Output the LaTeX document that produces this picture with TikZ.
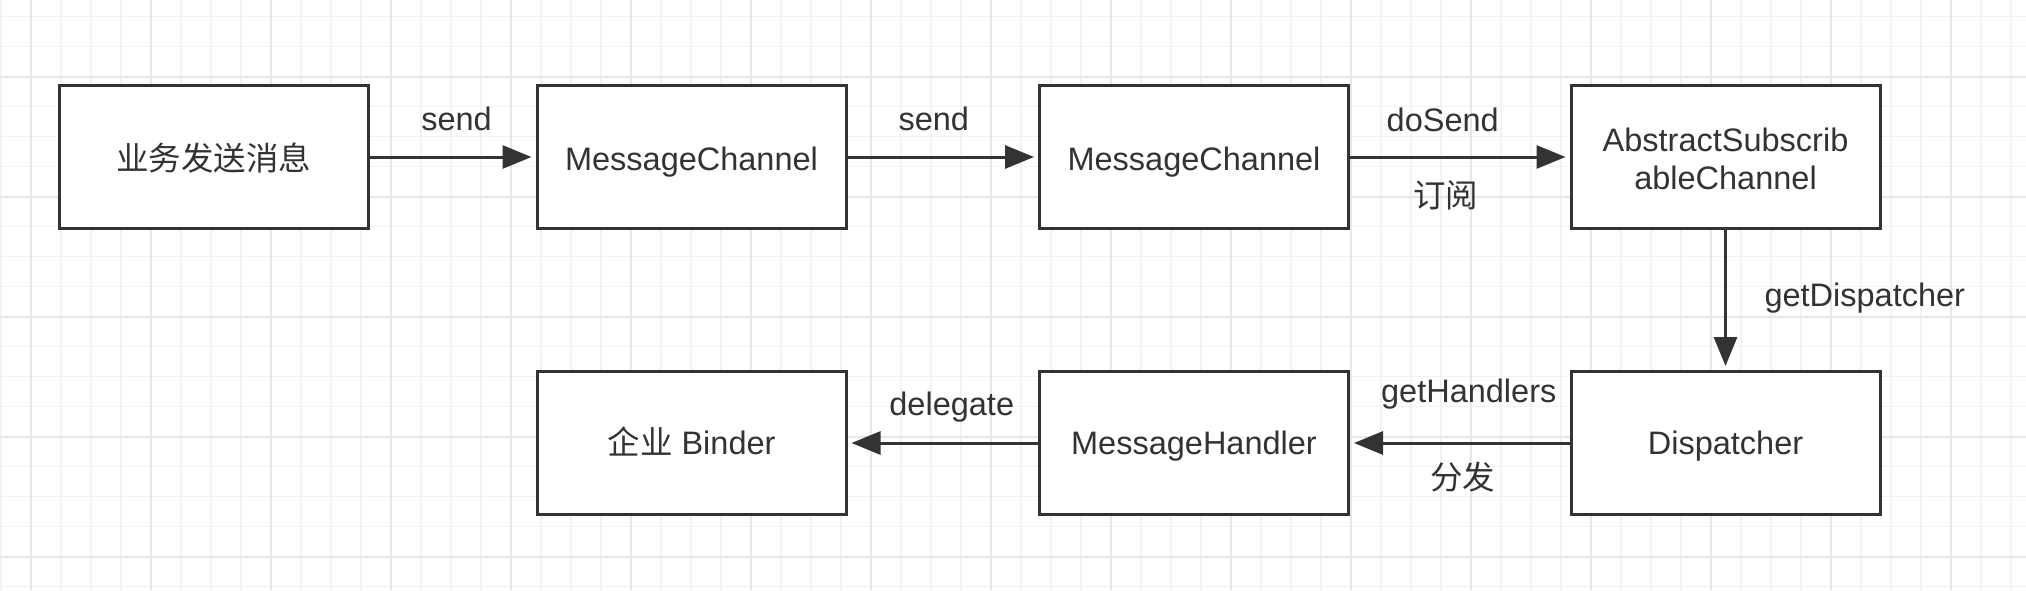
\documentclass[tikz,border=0pt]{standalone}
\usepackage{fontspec}
\setmainfont{Liberation Sans}
\newfontfamily\cjk{Noto Sans CJK SC}
\usetikzlibrary{arrows.meta}
\definecolor{ink}{HTML}{333333}
\definecolor{gridminor}{HTML}{F2F2F2}
\definecolor{gridmajor}{HTML}{E7E7E7}
\tikzset{
  box/.style={draw=ink, line width=3pt, fill=white, rectangle, inner sep=0pt,
    minimum width=309pt, minimum height=143pt, text=ink,
    font=\fontsize{32.5}{37.3}\selectfont, text height=23pt, text depth=0pt},
  toprow/.style={text height=26pt},
  twoline/.style={align=center, text height=64pt, text depth=0pt},
  arr/.style={draw=ink, line width=3pt, -{Triangle[length=29pt,width=23pt]}, shorten >=4pt},
  lbl/.style={text=ink, inner sep=0pt, font=\fontsize{32.5}{37.3}\selectfont, anchor=base},
}
\begin{document}
\begin{tikzpicture}[x=1pt,y=-1pt]
\useasboundingbox (0,0) rectangle (2026,590);
\fill[white] (0,0) rectangle (2026,590);
% grid
\foreach \i in {0,...,67} { \draw[gridminor, line width=1.5pt] ({1+30*\i},0) -- ({1+30*\i},590); }
\foreach \j in {0,...,19} { \draw[gridminor, line width=1.5pt] (0,{16.7+30*\j}) -- (2026,{16.7+30*\j}); }
\foreach \i in {0,...,16} { \draw[gridmajor, line width=2pt] ({31+120*\i},0) -- ({31+120*\i},590); }
\foreach \j in {0,...,4} { \draw[gridmajor, line width=2pt] (0,{76.7+120*\j}) -- (2026,{76.7+120*\j}); }
% boxes
\node[box, toprow] (b1) at (213.5,157) {{\cjk 业务发送消息}};
\node[box, toprow] (b2) at (691.5,157) {MessageChannel};
\node[box, toprow] (b3) at (1194,157) {MessageChannel};
\node[box, twoline] (b4) at (1725.5,157) {AbstractSubscrib\\ableChannel};
\node[box] (b5) at (691.5,443) {{\cjk 企业} Binder};
\node[box] (b6) at (1194,443) {MessageHandler};
\node[box] (b7) at (1725.5,443) {Dispatcher};
% connectors
\draw[arr] (b1.east) -- node[lbl, xshift=4pt, yshift=27pt] (l1) {send} (b2.west);
\draw[arr] (b2.east) -- node[lbl, xshift=-9pt, yshift=27pt] (l2) {send} (b3.west);
\draw[arr] (b3.east) -- node[lbl, xshift=-17pt, yshift=26pt] (l3) {doSend}
                        node[lbl, xshift=-14pt, yshift=-50pt] (l4) {\cjk 订阅} (b4.west);
\draw[arr] (b4.south) -- node[lbl, anchor=base west, xshift=37.5pt, yshift=-6pt] (l5) {getDispatcher} (b7.north);
\draw[arr] (b7.west) -- node[lbl, xshift=9pt, yshift=41pt] (l6) {getHandlers}
                        node[lbl, xshift=3pt, yshift=-46pt] (l7) {\cjk 分发} (b6.east);
\draw[arr] (b6.west) -- node[lbl, xshift=9pt, yshift=28pt] (l8) {delegate} (b5.east);
\end{tikzpicture}
\end{document}
